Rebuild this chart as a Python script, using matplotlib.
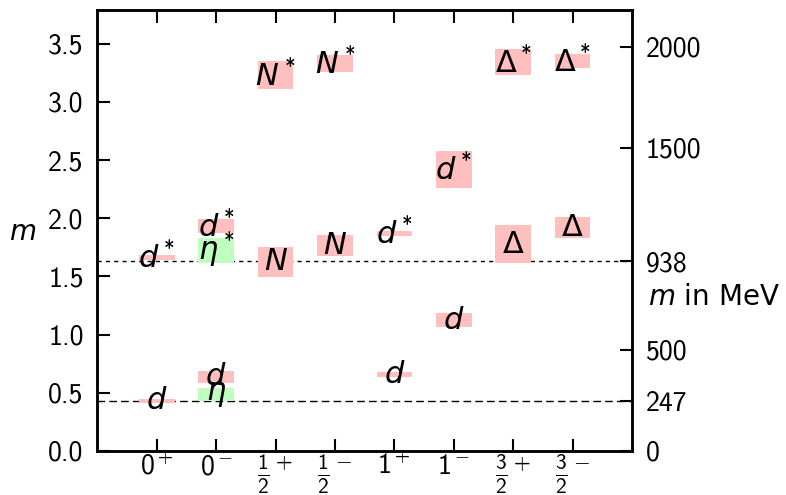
import matplotlib
matplotlib.use("Agg")
import matplotlib.pyplot as plt

plt.rcParams["mathtext.fontset"] = "custom"
plt.rcParams["mathtext.rm"] = "cmss10"
plt.rcParams["mathtext.it"] = "DejaVu Sans:italic"
plt.rcParams["mathtext.bf"] = "DejaVu Sans:bold"

# spin-parity channels along x
channels = ["$0^+$", "$0^-$", r"${\frac{1}{2}}^+$", r"${\frac{1}{2}}^-$",
            "$1^+$", "$1^-$", r"${\frac{3}{2}}^+$", r"${\frac{3}{2}}^-$"]

# one entry per state: channel index, lower and upper mass, label, kind
state_chan = [0, 0, 1, 1, 1, 1, 2, 2, 3, 3, 4, 4, 5, 5, 6, 6, 7, 7]
state_lo = [0.41, 1.64, 0.43, 0.585, 1.615, 1.873, 1.495, 3.11, 1.675, 3.26,
            0.636, 1.85, 1.065, 2.26, 1.615, 3.23, 1.83, 3.29]
state_hi = [0.45, 1.684, 0.54, 0.687, 1.83, 1.993, 1.753, 3.35, 1.855, 3.40,
            0.68, 1.89, 1.185, 2.58, 1.94, 3.45, 2.01, 3.41]
state_lab = ["$d$", "$d^*$", r"$\eta$", "$d$", r"$\eta^*$", "$d^*$",
             "$N$", "$N^*$", "$N$", "$N^*$", "$d$", "$d^*$", "$d$", "$d^*$",
             r"$\mathregular{\Delta}$", r"$\mathregular{\Delta}^*$",
             r"$\mathregular{\Delta}$", r"$\mathregular{\Delta}^*$"]
state_kind = ["b", "b", "m", "b", "m", "b", "b", "b", "b", "b",
              "b", "b", "b", "b", "b", "b", "b", "b"]

m_ticks = [0.0, 0.5, 1.0, 1.5, 2.0, 2.5, 3.0, 3.5]
mev_ticks = [0, 247, 500, 938, 1500, 2000]
mev_per_unit = 576.0
ref_lines = [(938, (3, 3)), (247, (5.5, 3))]

colors = {"b": "#ffbfbf", "m": "#bfffbf"}
fs = 22
tfs = 20

fig = plt.figure(figsize=(7.86, 4.95), dpi=100)
ax = fig.add_axes([0.124, 0.089, 0.68, 0.891])
ax.set_xlim(0, 9)
ax.set_ylim(0, 3.79)

xs = [c + 1 for c in state_chan]
heights = [h - l for l, h in zip(state_lo, state_hi)]
ax.bar(xs, heights, bottom=state_lo, width=0.6,
       color=[colors[k] for k in state_kind], zorder=2)
for x, lo, hi, lab in zip(xs, state_lo, state_hi, state_lab):
    ax.text(x, (lo + hi) / 2, lab, ha="center", va="center",
            fontsize=fs, zorder=3)

for mev, dash in ref_lines:
    ax.axhline(mev / mev_per_unit, color="black", lw=1.0,
               dashes=dash, zorder=1)

ax.set_xticks(range(1, 9))
ax.set_xticklabels(channels, fontsize=tfs, va="top")
# half-integer spins get a larger size so the fractions stay readable
for t in ax.get_xticklabels():
    if "frac" in t.get_text():
        t.set_fontsize(22)
ax.set_yticks(m_ticks)
ax.set_yticklabels([f"{v:.1f}" for v in m_ticks], fontsize=tfs,
                   family="cmss10")
ax.tick_params(axis="x", direction="in", top=True, length=9, width=1.5, pad=1)
ax.tick_params(axis="y", direction="in", length=9, width=1.5, pad=10)
for s in ax.spines.values():
    s.set_linewidth(1.8)

ax2 = ax.twinx()
ax2.set_ylim(0, 3.79 * mev_per_unit)
ax2.set_yticks(mev_ticks)
ax2.set_yticklabels([str(v) for v in mev_ticks], fontsize=tfs,
                    family="cmss10")
ax2.tick_params(axis="y", direction="in", length=9, width=1.5, pad=10)
for s in ax2.spines.values():
    s.set_linewidth(1.8)

ax.text(-0.165, 1.88, "$m$", fontsize=tfs, ha="left", va="center",
        transform=ax.get_yaxis_transform())
ax.text(1.03, 1.32, r"$m$ $\mathsf{in\ MeV}$", fontsize=tfs, ha="left",
        va="center", transform=ax.get_yaxis_transform())

fig.savefig("out.png", dpi=100)
